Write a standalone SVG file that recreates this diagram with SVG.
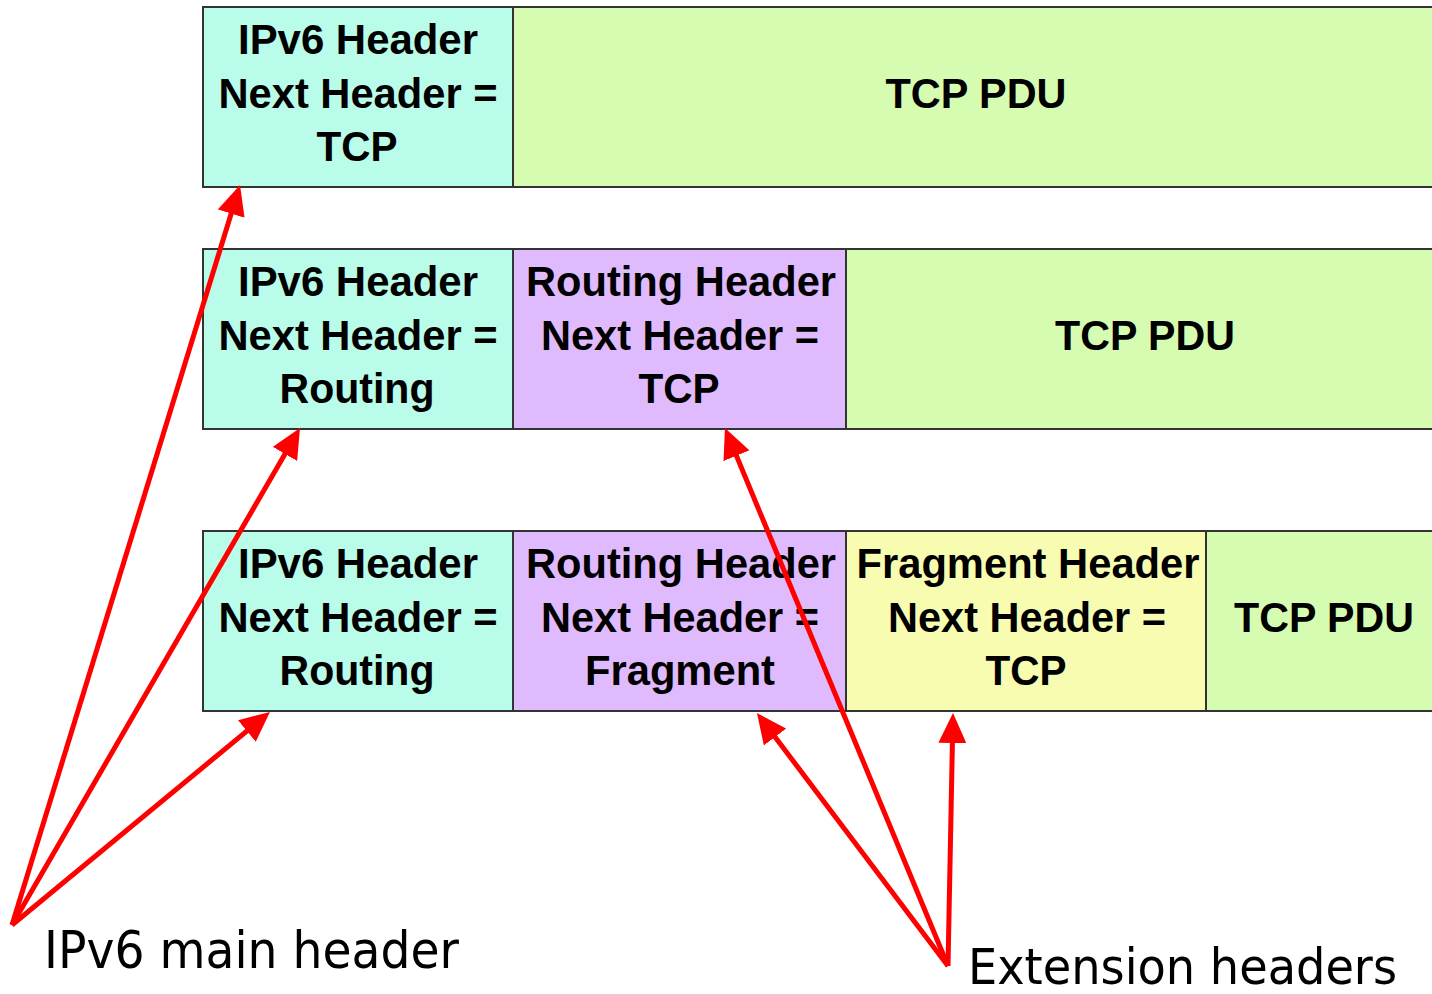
<svg xmlns="http://www.w3.org/2000/svg" width="1432" height="994" viewBox="0 0 1432 994">
<style>
.box{stroke:#333;stroke-width:2}
.ipv6{fill:#b9fce9}
.rout{fill:#dfbafc}
.frag{fill:#f7fcb1}
.tcp{fill:#d5fcb0}
.t{font-family:"Liberation Sans",Arial,sans-serif;font-weight:bold;font-size:42px;fill:#000;text-anchor:middle}
.lbl{font-family:"DejaVu Sans",Verdana,sans-serif;font-size:52px;fill:#000}
.lbl2{font-family:"DejaVu Sans",Verdana,sans-serif;font-size:50px;fill:#000}
.arr{stroke:#ff0000;stroke-width:5;fill:none;marker-end:url(#ah)}
</style>
<defs>
<marker id="ah" markerUnits="userSpaceOnUse" viewBox="0 0 30 28" refX="15" refY="14" markerWidth="30" markerHeight="28" orient="auto">
<path d="M0,0 L30,14 L0,28 z" fill="#ff0000"/>
</marker>
</defs>
<rect width="1432" height="994" fill="#fff"/>

<g id="row1">
<g id="r1-ipv6"><rect class="box ipv6" x="203" y="7" width="310" height="180"/>
<text class="t" x="358" y="54" textLength="240" lengthAdjust="spacingAndGlyphs">IPv6 Header</text>
<text class="t" x="358" y="108" textLength="279" lengthAdjust="spacingAndGlyphs">Next Header =</text>
<text class="t" x="357" y="161" textLength="81" lengthAdjust="spacingAndGlyphs">TCP</text></g>
<g id="r1-tcp"><rect class="box tcp" x="513" y="7" width="925" height="180"/>
<text class="t" x="976" y="108" textLength="181" lengthAdjust="spacingAndGlyphs">TCP PDU</text></g>
</g>

<g id="row2">
<g id="r2-ipv6"><rect class="box ipv6" x="203" y="249" width="310" height="180"/>
<text class="t" x="358" y="296" textLength="240" lengthAdjust="spacingAndGlyphs">IPv6 Header</text>
<text class="t" x="358" y="350" textLength="279" lengthAdjust="spacingAndGlyphs">Next Header =</text>
<text class="t" x="357" y="403" textLength="155" lengthAdjust="spacingAndGlyphs">Routing</text></g>
<g id="r2-routing"><rect class="box rout" x="513" y="249" width="333" height="180"/>
<text class="t" x="681" y="296" textLength="310" lengthAdjust="spacingAndGlyphs">Routing Header</text>
<text class="t" x="680" y="350" textLength="278" lengthAdjust="spacingAndGlyphs">Next Header =</text>
<text class="t" x="679" y="403" textLength="81" lengthAdjust="spacingAndGlyphs">TCP</text></g>
<g id="r2-tcp"><rect class="box tcp" x="846" y="249" width="592" height="180"/>
<text class="t" x="1145" y="350" textLength="180" lengthAdjust="spacingAndGlyphs">TCP PDU</text></g>
</g>

<g id="row3">
<g id="r3-ipv6"><rect class="box ipv6" x="203" y="531" width="310" height="180"/>
<text class="t" x="358" y="578" textLength="240" lengthAdjust="spacingAndGlyphs">IPv6 Header</text>
<text class="t" x="358" y="632" textLength="279" lengthAdjust="spacingAndGlyphs">Next Header =</text>
<text class="t" x="357" y="685" textLength="155" lengthAdjust="spacingAndGlyphs">Routing</text></g>
<g id="r3-routing"><rect class="box rout" x="513" y="531" width="333" height="180"/>
<text class="t" x="681" y="578" textLength="310" lengthAdjust="spacingAndGlyphs">Routing Header</text>
<text class="t" x="680" y="632" textLength="278" lengthAdjust="spacingAndGlyphs">Next Header =</text>
<text class="t" x="680" y="685" textLength="190" lengthAdjust="spacingAndGlyphs">Fragment</text></g>
<g id="r3-fragment"><rect class="box frag" x="846" y="531" width="360" height="180"/>
<text class="t" x="1028" y="578" textLength="343" lengthAdjust="spacingAndGlyphs">Fragment Header</text>
<text class="t" x="1027" y="632" textLength="278" lengthAdjust="spacingAndGlyphs">Next Header =</text>
<text class="t" x="1026" y="685" textLength="81" lengthAdjust="spacingAndGlyphs">TCP</text></g>
<g id="r3-tcp"><rect class="box tcp" x="1206" y="531" width="232" height="180"/>
<text class="t" x="1324" y="632" textLength="180" lengthAdjust="spacingAndGlyphs">TCP PDU</text></g>
</g>

<g id="connectors">
<line class="arr" x1="12" y1="925" x2="235.6" y2="199.3"/>
<line class="arr" x1="12" y1="925" x2="292.5" y2="441.0"/>
<line class="arr" x1="12" y1="925" x2="258.4" y2="721.5"/>
<line class="arr" x1="948" y1="966" x2="766.0" y2="725.0"/>
<line class="arr" x1="948" y1="966" x2="730.7" y2="441.9"/>
<line class="arr" x1="948" y1="966" x2="952.7" y2="728"/>
</g>

<g id="label-main"><text class="lbl" x="44" y="968" textLength="415" lengthAdjust="spacingAndGlyphs">IPv6 main header</text></g>
<g id="label-ext"><text class="lbl2" x="968" y="984" textLength="429" lengthAdjust="spacingAndGlyphs">Extension headers</text></g>
</svg>
